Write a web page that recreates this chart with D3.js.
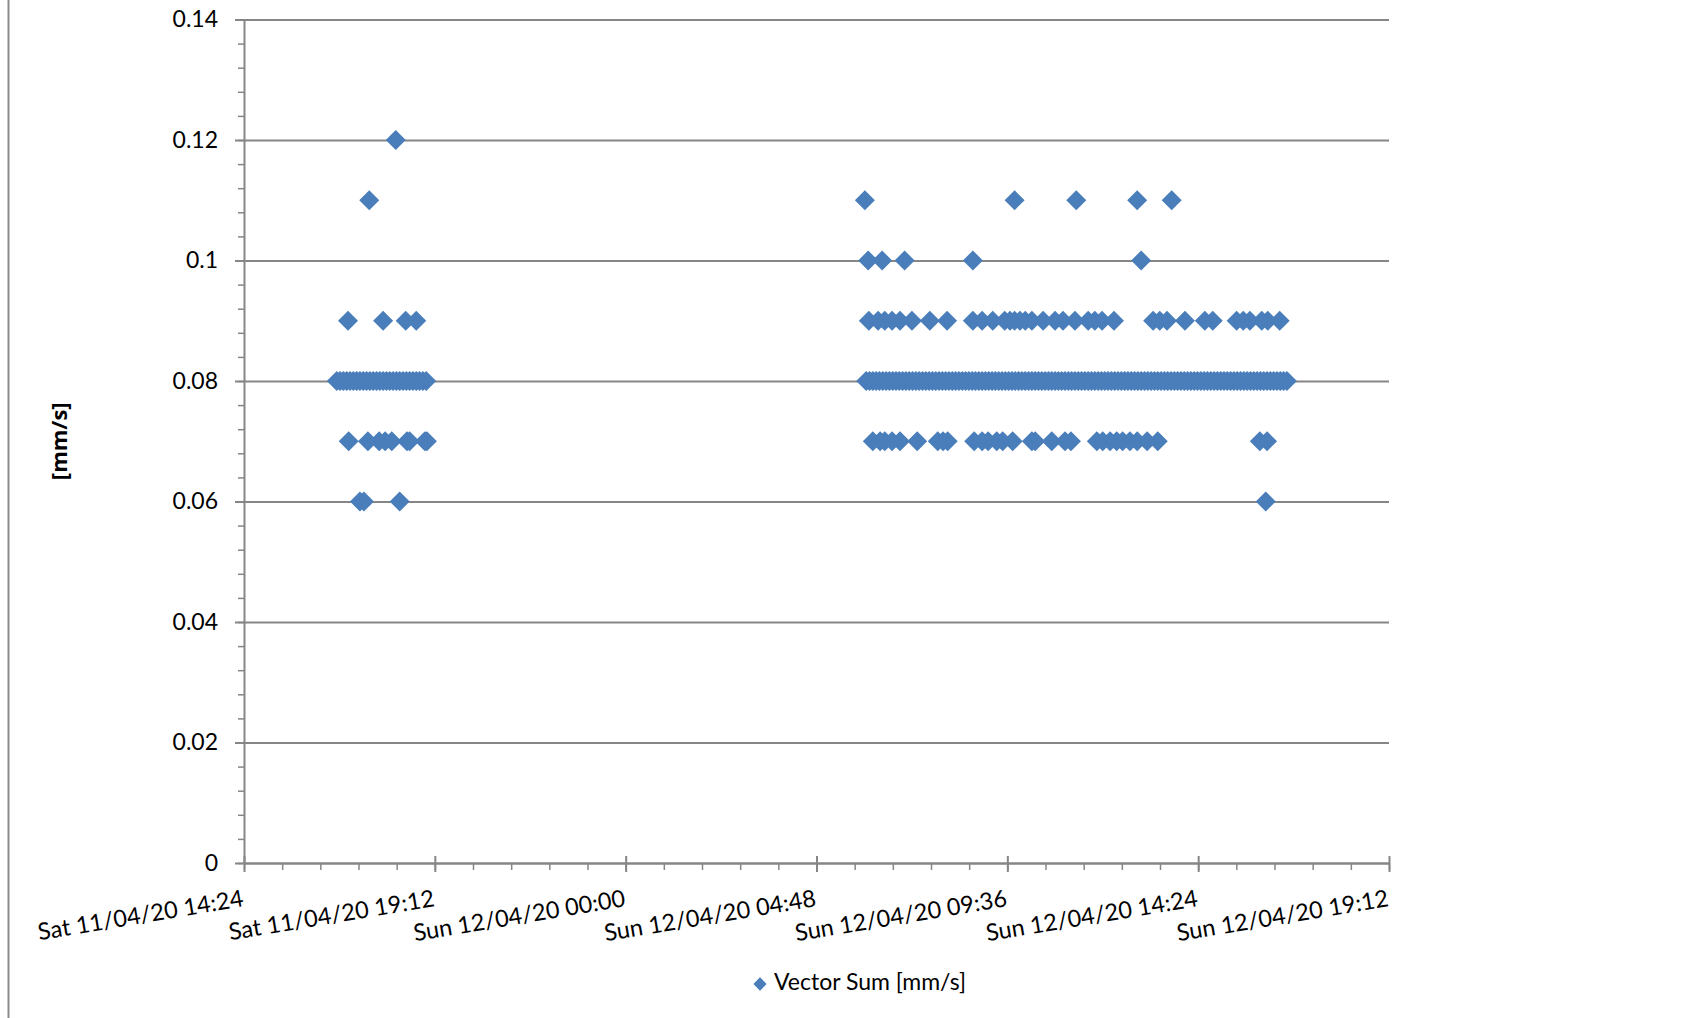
<!DOCTYPE html>
<html>
<head>
<meta charset="utf-8">
<script src="https://cdn.jsdelivr.net/npm/d3@7"></script>
<style>
  body { margin: 0; background: #fff; }
  svg { display: block; font-family: Lato, "Open Sans", sans-serif; }
</style>
</head>
<body>
<svg id="chart" width="1687" height="1018"></svg>
<script>
// readings, grouped by day and by value [mm/s]
const sat006 = ["17:19", "17:25", "18:19"];
const sat007 = ["17:02", "17:31", "17:48", "17:57", "18:07", "18:30", "18:34", "18:57", "19:00"];
const sat008 = ["16:44", "16:49", "16:54", "16:59", "17:04", "17:09", "17:14", "17:19", "17:24", "17:29",
  "17:34", "17:39", "17:44", "17:49", "17:54", "17:59", "18:04", "18:09", "18:14", "18:19",
  "18:24", "18:29", "18:34", "18:39", "18:44", "18:49", "18:54", "18:59"];
const sat009 = ["17:01", "17:54", "18:28", "18:44"];
const sat011 = ["17:33"];
const sat012 = ["18:13"];

const sun006 = ["16:06"];
const sun007 = ["06:13", "06:24", "06:31", "06:42", "06:54", "07:20", "07:51", "07:59", "08:06", "08:46",
  "08:58", "09:07", "09:20", "09:29", "09:44", "10:13", "10:18", "10:43", "11:03", "11:12",
  "11:51", "12:00", "12:11", "12:21", "12:30", "12:41", "12:52", "13:07", "13:23", "15:57", "16:08"];
const sun008 = [
  "06:03", "06:08", "06:13", "06:18", "06:23", "06:28", "06:33", "06:38", "06:43", "06:48", "06:53", "06:58",
  "07:03", "07:08", "07:13", "07:18", "07:23", "07:28", "07:33", "07:38", "07:43", "07:48", "07:53", "07:58",
  "08:03", "08:08", "08:13", "08:18", "08:23", "08:28", "08:33", "08:38", "08:43", "08:48", "08:53", "08:58",
  "09:03", "09:08", "09:13", "09:18", "09:23", "09:28", "09:33", "09:38", "09:43", "09:48", "09:53", "09:58",
  "10:03", "10:08", "10:13", "10:18", "10:23", "10:28", "10:33", "10:38", "10:43", "10:48", "10:53", "10:58",
  "11:03", "11:08", "11:13", "11:18", "11:23", "11:28", "11:33", "11:38", "11:43", "11:48", "11:53", "11:58",
  "12:03", "12:08", "12:13", "12:18", "12:23", "12:28", "12:33", "12:38", "12:43", "12:48", "12:53", "12:58",
  "13:03", "13:08", "13:13", "13:18", "13:23", "13:28", "13:33", "13:38", "13:43", "13:48", "13:53", "13:58",
  "14:03", "14:08", "14:13", "14:18", "14:23", "14:28", "14:33", "14:38", "14:43", "14:48", "14:53", "14:58",
  "15:03", "15:08", "15:13", "15:18", "15:23", "15:28", "15:33", "15:38", "15:43", "15:48", "15:53", "15:58",
  "16:03", "16:08", "16:13", "16:18", "16:23", "16:28", "16:33", "16:38"];
const sun009 = ["06:07", "06:21", "06:31", "06:42", "06:54", "07:12", "07:39", "08:05", "08:44", "08:58",
  "09:14", "09:32", "09:40", "09:47", "09:55", "10:03", "10:13", "10:30", "10:48", "11:00",
  "11:18", "11:38", "11:48", "11:59", "12:17", "13:16", "13:26", "13:37", "14:04", "14:34",
  "14:46", "15:22", "15:32", "15:42", "16:00", "16:09", "16:27"];
const sun010 = ["06:06", "06:27", "07:01", "08:44", "12:58"];
const sun011 = ["06:01", "09:47", "11:20", "12:52", "13:44"];

// axis ticks
const xTicks = ["11/04/20 14:24", "11/04/20 19:12", "12/04/20 00:00", "12/04/20 04:48",
  "12/04/20 09:36", "12/04/20 14:24", "12/04/20 19:12"];
const yTicks = [0, 0.02, 0.04, 0.06, 0.08, 0.1, 0.12, 0.14];
const seriesName = "Vector Sum [mm/s]";

const parse = d3.timeParse("%d/%m/%y %H:%M");
const fmt = d3.timeFormat("%a %d/%m/%y %H:%M");

const groups = [
  ["11/04/20", sat006, 0.06], ["11/04/20", sat007, 0.07], ["11/04/20", sat008, 0.08],
  ["11/04/20", sat009, 0.09], ["11/04/20", sat011, 0.11], ["11/04/20", sat012, 0.12],
  ["12/04/20", sun006, 0.06], ["12/04/20", sun007, 0.07], ["12/04/20", sun008, 0.08],
  ["12/04/20", sun009, 0.09], ["12/04/20", sun010, 0.10], ["12/04/20", sun011, 0.11]
];
const points = [];
groups.forEach(([day, times, v]) => times.forEach(t => points.push({ t: parse(day + " " + t), v: v })));
points.sort((a, b) => a.t - b.t);

const svg = d3.select("#chart");
const grey = "#868686";
const blue = "#4a7ebb";
const fontSize = 23;

const xTickDates = xTicks.map(parse);
const x = d3.scaleTime().domain([xTickDates[0], xTickDates[xTickDates.length - 1]]).range([244, 1389]);
const y = d3.scaleLinear().domain([0, 0.14]).range([863, 19.5]);

// frame line at the very left
svg.append("line")
  .attr("x1", 8.5).attr("x2", 8.5).attr("y1", 0).attr("y2", 1018)
  .attr("stroke", "#8c8c8c").attr("stroke-width", 2);

// horizontal gridlines
svg.append("g")
  .attr("transform", `translate(${x.range()[0]},0)`)
  .call(d3.axisLeft(y).tickValues(yTicks).tickSize(-(x.range()[1] - x.range()[0])).tickFormat(""))
  .call(g => g.select(".domain").remove())
  .call(g => g.selectAll("line").attr("stroke", grey).attr("stroke-width", 2));

// y minor ticks
const yMinor = d3.range(0, 0.1401, 0.004);
svg.append("g")
  .attr("transform", `translate(${x.range()[0]},0)`)
  .call(d3.axisLeft(y).tickValues(yMinor).tickSize(6).tickFormat("").tickSizeOuter(0))
  .call(g => g.select(".domain").remove())
  .call(g => g.selectAll("line").attr("stroke", grey).attr("stroke-width", 1.5));

// y axis
svg.append("g")
  .attr("transform", `translate(${x.range()[0]},0)`)
  .call(d3.axisLeft(y).tickValues(yTicks).tickSize(9).tickPadding(17).tickSizeOuter(0).tickFormat(d => String(d)))
  .call(g => g.select(".domain").attr("stroke", grey).attr("stroke-width", 2))
  .call(g => g.selectAll("line").attr("stroke", grey).attr("stroke-width", 2))
  .call(g => g.selectAll("text").attr("fill", "#000").attr("font-size", fontSize).attr("font-family", "Lato"));

// x minor ticks (every 57.6 minutes)
const span = x.domain()[1] - x.domain()[0];
const xMinor = d3.range(0, 31).map(i => new Date(+x.domain()[0] + span * i / 30));
svg.append("g")
  .attr("transform", `translate(0,${y(0)})`)
  .call(d3.axisBottom(x).tickValues(xMinor).tickSize(7).tickFormat("").tickSizeOuter(0))
  .call(g => g.select(".domain").remove())
  .call(g => g.selectAll("line").attr("stroke", grey).attr("stroke-width", 1.5));

// x axis
svg.append("g")
  .attr("transform", `translate(0,${y(0)})`)
  .call(d3.axisBottom(x).tickValues(xTickDates).tickSize(9).tickSizeOuter(0).tickFormat(fmt))
  .call(g => g.select(".domain").attr("stroke", grey).attr("stroke-width", 2))
  .call(g => g.selectAll(".tick line").attr("y1", -7).attr("stroke", grey).attr("stroke-width", 2))
  .call(g => g.selectAll("text")
    .attr("fill", "#000").attr("font-size", 23.5).attr("font-family", "Lato")
    .attr("text-anchor", "end").attr("x", 0).attr("y", 0).attr("dy", 0)
    .attr("transform", "translate(0,43) rotate(-9.5)"));

// points
const diamond = d3.symbol(d3.symbolSquare, 200);
svg.append("g")
  .selectAll("path")
  .data(points)
  .join("path")
  .attr("d", diamond)
  .attr("transform", d => `translate(${x(d.t)},${y(d.v)}) rotate(45)`)
  .attr("fill", blue);

// y title
svg.append("text")
  .attr("transform", `translate(61,${(y(0) + y(0.14)) / 2}) rotate(-90)`)
  .attr("text-anchor", "middle")
  .attr("dominant-baseline", "middle")
  .style("font-family", "'Open Sans', Lato, sans-serif")
  .style("font-size", "22px")
  .style("font-weight", "700")
  .text("[mm/s]");

// legend
const legend = svg.append("g").attr("transform", "translate(760,984)");
legend.append("path")
  .attr("d", d3.symbol(d3.symbolSquare, 88)())
  .attr("transform", "rotate(45)")
  .attr("fill", blue);
legend.append("text")
  .attr("x", 14)
  .attr("dominant-baseline", "middle")
  .attr("font-size", fontSize)
  .text(seriesName);
</script>
</body>
</html>
